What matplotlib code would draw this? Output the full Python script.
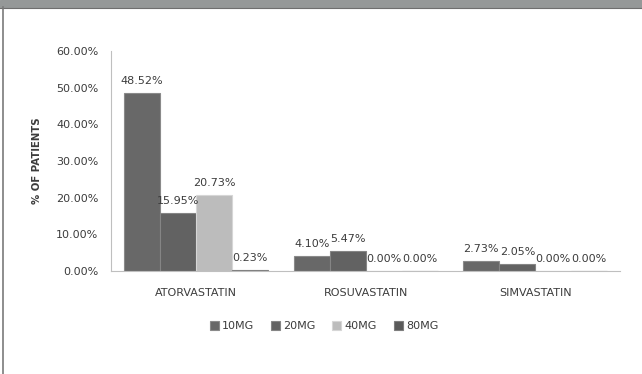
import numpy as np
import matplotlib.pyplot as plt
from matplotlib.patches import Rectangle

drugs = ['ATORVASTATIN', 'ROSUVASTATIN', 'SIMVASTATIN']
doses = ['10MG', '20MG', '40MG', '80MG']
# percent of patients per drug, one list per dose
pct_10 = [48.52, 4.10, 2.73]
pct_20 = [15.95, 5.47, 2.05]
pct_40 = [20.73, 0.00, 0.00]
pct_80 = [0.23, 0.00, 0.00]
yticks = [0, 10, 20, 30, 40, 50, 60]

series = [pct_10, pct_20, pct_40, pct_80]
colors = ['#686868', '#626262', '#bcbcbc', '#5a5a5a']
edges = ['#8a8a8a', '#858585', '#d6d6d6', '#7e7e7e']
txt = '#3c3c3c'
fs = 8

fig = plt.figure(figsize=(6.42, 3.74), dpi=100)
ax = fig.add_axes([0.173, 0.275, 0.793, 0.589])

x = np.arange(len(drugs))
w = 0.212
for i, vals in enumerate(series):
    pos = x + (i - 1.5) * w
    bars = ax.bar(pos, vals, width=w, color=colors[i], edgecolor=edges[i],
                  linewidth=0.8, label=doses[i])
    for b, v in zip(bars, vals):
        ax.annotate('%.2f%%' % v, (b.get_x() + b.get_width() / 2, v),
                    xytext=(0, 5), textcoords='offset points',
                    ha='center', va='bottom', fontsize=fs, color=txt)

ax.set_xlim(-0.5, 2.5)
ax.set_ylim(0, 60)
ax.set_yticks(yticks)
ax.set_yticklabels(['%.2f%%' % t for t in yticks], fontsize=fs, color=txt)
ax.set_xticks(x)
ax.set_xticklabels(drugs, fontsize=fs, color=txt)
ax.tick_params(axis='both', length=0)
ax.tick_params(axis='y', pad=9)
ax.tick_params(axis='x', pad=12)
ax.set_ylabel('% OF PATIENTS', fontsize=7.3, color=txt, fontweight='bold', labelpad=10)

for s in ['top', 'right']:
    ax.spines[s].set_visible(False)
ax.spines['left'].set_color('#bfbfbf')
ax.spines['bottom'].set_color('#bfbfbf')

fig.legend(loc='center', bbox_to_anchor=(0.505, 0.128), ncol=4, frameon=False,
           fontsize=fs, handlelength=0.8, handleheight=0.8, handletextpad=0.3,
           columnspacing=1.5, labelcolor=txt)

# header band and frame
fig.patches.append(Rectangle((0, 1 - 7 / 374), 1, 7 / 374, transform=fig.transFigure,
                             color='#959898', zorder=0))
fig.add_artist(plt.Line2D([0, 1], [1 - 7.5 / 374] * 2, transform=fig.transFigure,
                          color='#6e6e6e', lw=0.8))
fig.add_artist(plt.Line2D([2.5 / 642] * 2, [0, 1 - 7 / 374], transform=fig.transFigure,
                          color='#7a7a7a', lw=1.2))

fig.savefig('out.png', dpi=100)
